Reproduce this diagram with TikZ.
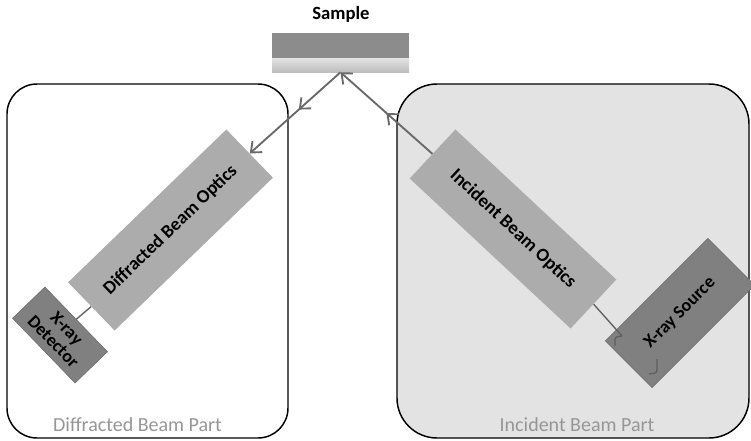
\documentclass[tikz,border=0pt]{standalone}
\usepackage{fontspec}
\setmainfont{Carlito}
\usetikzlibrary{calc,arrows.meta,decorations.markings}
\newcommand{\px}{.75pt}
\definecolor{opticsgray}{RGB}{172,172,172}
\definecolor{unitgray}{RGB}{128,128,128}
\definecolor{partfill}{RGB}{227,227,227}
\definecolor{beamgray}{RGB}{105,105,105}
\definecolor{linkgray}{RGB}{95,95,95}
\definecolor{labelgray}{RGB}{150,150,150}
\definecolor{filmgray}{RGB}{140,140,140}
\definecolor{substrategray}{RGB}{222,222,222}

\begin{document}
\begin{tikzpicture}[x=\px, y=-\px,
    optics/.style={fill=opticsgray, inner sep=0pt, minimum width=220*\px,
        minimum height=67*\px, font=\fontsize{14}{16}\selectfont\bfseries},
    unit/.style={fill=unitgray, draw=unitgray!85!black, inner sep=0pt,
        align=center, font=\fontsize{13.5}{14}\selectfont\bfseries},
    part/.style={draw=black, line width=1.1pt},
    partlabel/.style={text=labelgray, font=\fontsize{15}{18}\selectfont},
    barb/.tip={Straight Barb[length=6.5pt,width=11pt,line width=1.4pt]},
    beam/.style={draw=beamgray, line width=1.4pt, -barb,
        postaction={decorate}, decoration={markings,
        mark=at position #1 with {\arrow{barb}}}},
    link/.style={draw=linkgray, line width=1pt}]
    \useasboundingbox (0,0) rectangle (751,440);

    % the two halves of the diffractometer
        \draw[part, fill=partfill, rounded corners=30pt] (397,84) rectangle (749,438);
        \draw[part, rounded corners=22.5pt] (7,84) rectangle (288,438);
        \node (dpart) at (137.5,425) [partlabel] {Diffracted Beam Part};
        \node (ipart) at (577,425) [partlabel] {Incident Beam Part};

    % sample: film on a substrate
        \node (film) at (340.5,45.5) [fill=filmgray, inner sep=0pt,
            minimum width=137*\px, minimum height=25*\px] {};
        \node (substr) at (340.5,65) [top color=substrategray!80!white,
            bottom color=substrategray!85!black, inner sep=0pt,
            minimum width=137*\px, minimum height=14*\px] {};
        \node (title) at (341,14) [font=\fontsize{14}{16}\selectfont\bfseries] {Sample};
        \coordinate (refl) at (substr.south);

    % optics, detector and source
        \node (dbo) at (170.5,230) [optics, rotate=44] {Diffracted Beam Optics};
        \node (ibo) at (513,229) [optics, rotate=-43] {Incident Beam Optics};
        \node (det) at (60,335) [unit, rotate=-46, minimum width=90*\px,
            minimum height=45*\px] {X-ray\\Detector};
        \node (src) at (680,313) [unit, rotate=45, minimum width=145*\px,
            minimum height=66*\px] {X-ray Source};

        \draw[link] (det.north) to (dbo.west);
        \coordinate (tube) at (622,336);
        \draw[link] (ibo.east) to (tube);
        \draw[link, rounded corners=2pt] (615,346) -- (615,337) -- (tube);
        \draw[link, rounded corners=2pt] (657,359) -- (657,373) -- (649,374);

    % beam paths, with a tip half way as well
        \draw[beam=0.5] (ibo.west) to (refl);
        \draw[beam=0.46] (refl) to (dbo.east);

  \end{tikzpicture}
\end{document}
